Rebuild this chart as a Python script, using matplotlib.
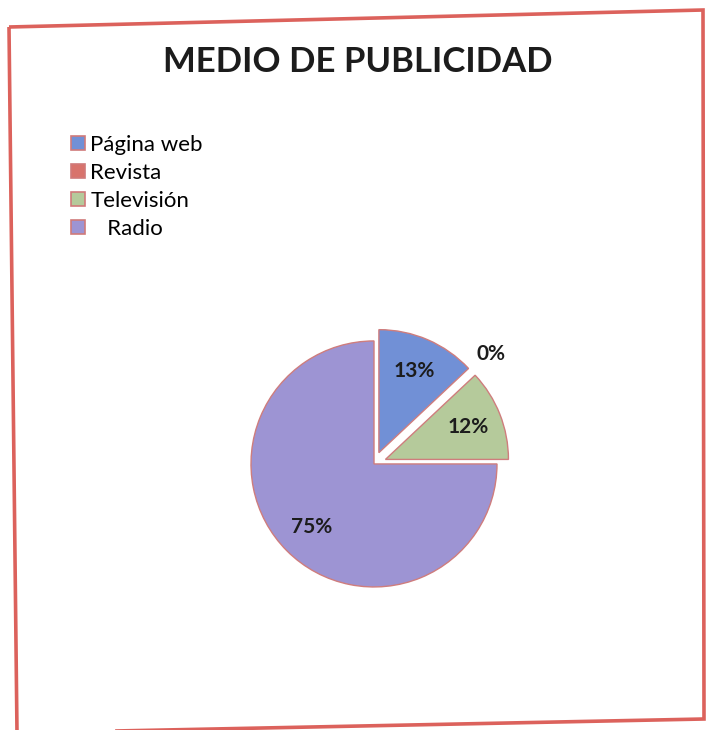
import matplotlib
matplotlib.use("Agg")
import matplotlib.pyplot as plt
import numpy as np
from matplotlib.patches import Polygon, Patch

categories = ["Página web", "Revista", "Televisión", "Radio"]
legend_labels = ["Página web", "Revista", "Televisión", "   Radio"]
values = [13, 0, 12, 75]
colors = ["#7190d6", "#d8736c", "#b5ca9b", "#9d94d3"]
explode = [0.1, 0.1, 0.1, 0.0]

plt.rcParams['font.family'] = ['Lato', 'DejaVu Sans']

fig = plt.figure(figsize=(7.07, 7.30), dpi=100)
fig.patch.set_facecolor("white")

# Red border (slightly tilted, as in the photographed page)
W, H = 707, 730
corners = [(9, 27), (703, 10), (704, 719), (17, 733)]
border = Polygon([(x / W, 1 - y / H) for x, y in corners], closed=True,
                 transform=fig.transFigure, fill=False,
                 edgecolor="#dc625c", linewidth=2.6)
fig.add_artist(border)

fig.text(0.506, 0.915, "MEDIO DE PUBLICIDAD", ha="center", va="center",
         fontsize=25, fontweight="bold", color="#1c1c1c")

ax = fig.add_axes([0.268, 0.1117, 0.522, 0.5055])
wedges, texts, autotexts = ax.pie(
    values, colors=colors, explode=explode, startangle=90, counterclock=False,
    autopct=lambda p: f"{p:.0f}%", pctdistance=0.72,
    wedgeprops=dict(edgecolor="#cf7d7d", linewidth=1.0),
    textprops=dict(fontsize=15, fontweight="bold", color="#1c1c1c"))
ax.set_xlim(-1.5, 1.5)
ax.set_ylim(-1.5, 1.5)
ax.set_aspect("equal")
ax.axis("off")

# The empty wedge draws no outline
wedges[1].set_linewidth(0)

# Move the 0% label outside its (empty) wedge
w = wedges[1]
ang = np.deg2rad((w.theta1 + w.theta2) / 2)
autotexts[1].set_position((0.08 * np.cos(ang) + 1.22 * np.cos(ang),
                           0.08 * np.sin(ang) + 1.22 * np.sin(ang)))

handles = [Patch(facecolor=c, edgecolor="#d07a7a", linewidth=1.2) for c in colors]
fig.legend(handles, legend_labels, loc="upper left",
           bbox_to_anchor=(62 / W, 1 - 126 / H), frameon=False,
           fontsize=16, handlelength=0.62, handleheight=0.62,
           handletextpad=0.25, labelspacing=0.36, borderaxespad=0)

fig.savefig("out.png", dpi=100, facecolor="white")
